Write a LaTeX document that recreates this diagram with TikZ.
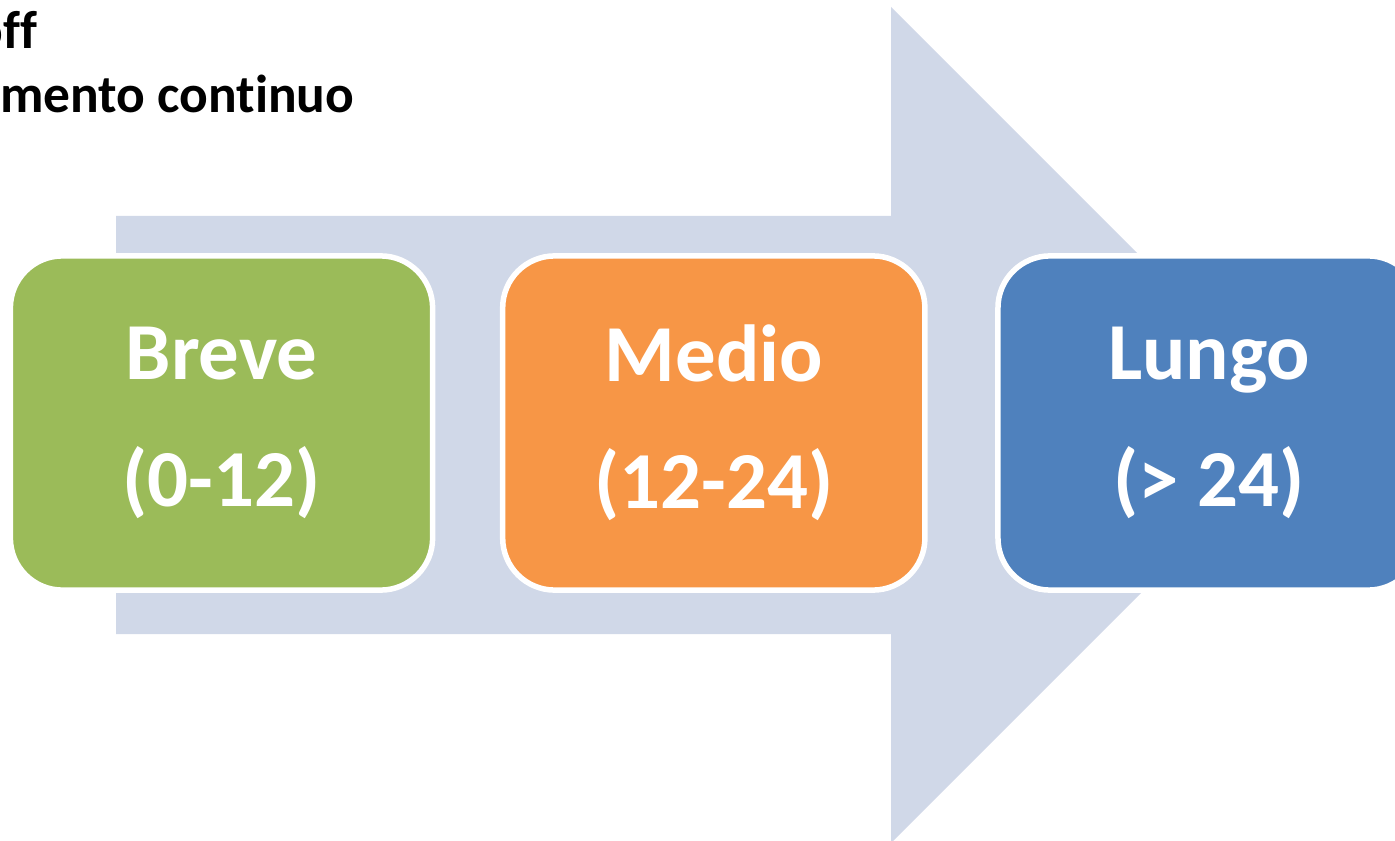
\documentclass[tikz,border=0pt]{standalone}
\usepackage{fontspec}
\setmainfont{Carlito}[Ligatures=NoCommon]
\definecolor{term_green}{RGB}{155, 187, 89}
\definecolor{term_orange}{RGB}{247, 150, 70}
\definecolor{term_blue}{RGB}{79, 129, 189}
\definecolor{term_arrow}{RGB}{208, 216, 232}
\usetikzlibrary{positioning}

\tikzset{
  termbox/.style={draw=white, line width=0.055cm, rounded corners=0.52cm,
    minimum width=4.22cm, minimum height=3.34cm, outer sep=0pt,
    align=center, text=white,
    font=\fontsize{23}{36}\selectfont\bfseries},
  headline/.style={anchor=base east, inner sep=0pt,
    font=\fontsize{15.2}{18}\selectfont\bfseries}
}

\begin{document}
\begin{tikzpicture}[x=0.01cm, y=-0.01cm]
        % --- Page frame ---
        \useasboundingbox (0,0) rectangle (1395,840);
        \clip (0,0) rectangle (1395,840);

        % --- Big arrow behind the boxes ---
        \fill[term_arrow] (116,216) -- (891,216) -- (891,7) -- (1309,425)
          -- (891,843) -- (891,634) -- (116,634) -- cycle;

        % --- Cut-off heading lines ---
        \node[headline] (offline) at (38,49) {off};
        \node[headline] (contline) at (355,113) {amento continuo};

        % --- Term boxes ---
        \node[termbox, fill=term_green] (breve) at (221.5,423) {Breve\\(0-12)};
        \node[termbox, fill=term_orange, right=0.7cm of breve] (medio) {Medio\\(12-24)};
        \node[termbox, fill=term_blue, right=0.73cm of medio] (lungo) {Lungo\\(> 24)};
      \end{tikzpicture}
\end{document}
